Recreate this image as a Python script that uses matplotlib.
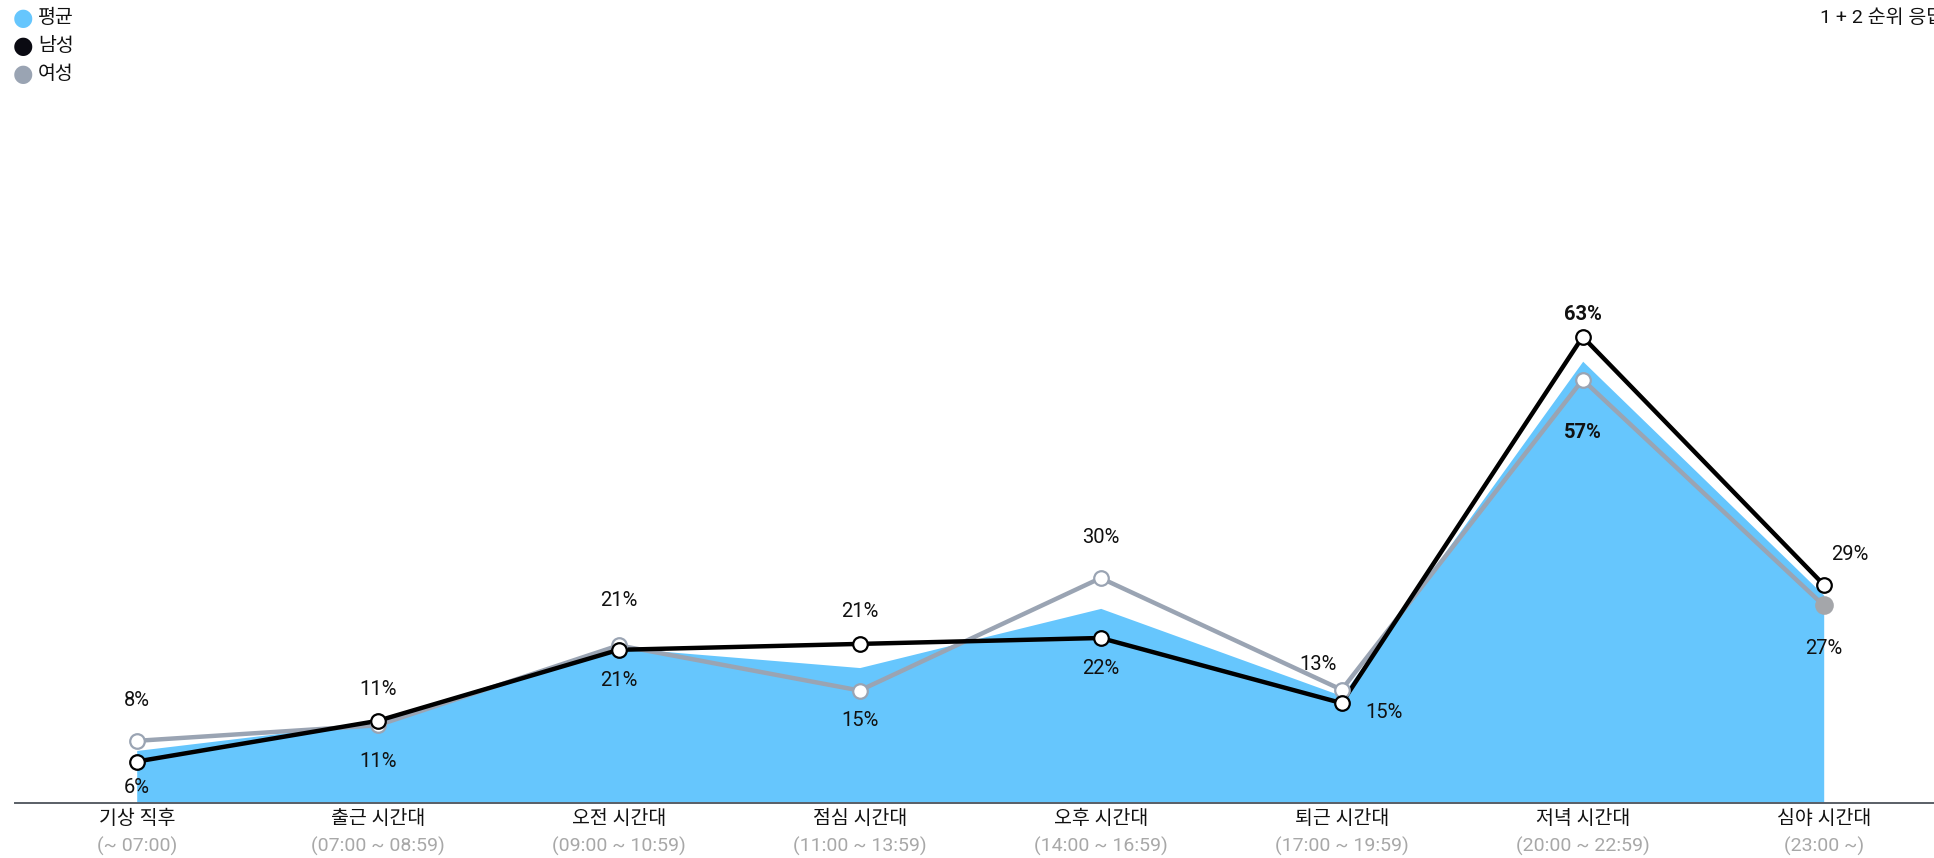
import numpy as np
import matplotlib.pyplot as plt

plt.rcParams['font.family'] = ['Roboto', 'Noto Sans CJK KR', 'DejaVu Sans']

# 시간대
categories = ['기상 직후', '출근 시간대', '오전 시간대', '점심 시간대',
              '오후 시간대', '퇴근 시간대', '저녁 시간대', '심야 시간대']
time_ranges = ['(~ 07:00)', '(07:00 ~ 08:59)', '(09:00 ~ 10:59)', '(11:00 ~ 13:59)',
               '(14:00 ~ 16:59)', '(17:00 ~ 19:59)', '(20:00 ~ 22:59)', '(23:00 ~)']

# 값 (%)
avg = [7.1, 11.0, 21.0, 18.3, 26.3, 14.5, 59.7, 28.1]
male = [5.6, 11.1, 20.7, 21.5, 22.3, 13.5, 63.0, 29.5]
female = [8.4, 10.5, 21.3, 15.2, 30.4, 15.3, 57.2, 26.7]

male_labels = ['6%', '11%', '21%', '21%', '22%', '15%', '63%', '29%']
female_labels = ['8%', '11%', '21%', '15%', '30%', '13%', '57%', '27%']

C_AVG = '#66c6fd'
C_MALE = '#000000'
C_FEMALE = '#9aa4b3'

W, H = 1934, 858
fig = plt.figure(figsize=(W / 100, H / 100), dpi=100)
base = 55  # px from bottom
ax = fig.add_axes([0, base / H, 1, (H - base) / H])
ax.set_xlim(-136.7 / 241, (W - 136.7) / 241)
ax.set_ylim(0, (H - base) / 7.4)
ax.axis('off')

x = np.arange(len(categories))

ax.fill_between(x, 0, avg, color=C_AVG, lw=0, zorder=1)
ax.plot(x, female, color=C_FEMALE, lw=3.2, zorder=2, solid_joinstyle='miter')
ax.plot(x, male, color=C_MALE, lw=3.2, zorder=3, solid_joinstyle='miter')

ax.scatter(x[:-1], female[:-1], s=110, facecolor='white', edgecolor=C_FEMALE, lw=1.6, zorder=4)
ax.scatter(x[-1:], female[-1:], s=140, facecolor='#a4a6aa', edgecolor='#a4a6aa', lw=1.6, zorder=4)
ax.scatter(x, male, s=110, facecolor='white', edgecolor=C_MALE, lw=1.6, zorder=5)

# 라벨 오프셋 (px)
male_off = [(0, -26), (0, 31), (0, -31), (0, 32), (0, -31), (42, -9), (0, 22), (26, 30)]
female_off = [(0, 40), (0, -36), (0, 45), (0, -30), (0, 41), (-24, 25), (0, -53), (0, -43)]

for i in x:
    for vals, labs, offs in ((male, male_labels, male_off), (female, female_labels, female_off)):
        bold = i == 6
        ax.annotate(labs[i], (i, vals[i]), xytext=offs[i], textcoords='offset pixels',
                    ha='center', va='center', fontsize=14.5, color='#111111',
                    fontweight='bold' if bold else 'normal', zorder=6)

# x축
ax.plot([15 / W, 1], [0, 0], transform=ax.transAxes, color='#5a5f66', lw=1.4, clip_on=False, zorder=6)
tr = ax.get_xaxis_transform()
for i in x:
    ax.annotate(categories[i], (i, 0), xycoords=tr, xytext=(0, -16), textcoords='offset pixels',
                ha='center', va='center', fontsize=14, color='#111111', annotation_clip=False)
    ax.annotate(time_ranges[i], (i, 0), xycoords=tr, xytext=(0, -43), textcoords='offset pixels',
                ha='center', va='center', fontsize=14, color='#a8a8a8', annotation_clip=False)

# 범례
legend_items = [('평균', C_AVG), ('남성', '#0a0a12'), ('여성', C_FEMALE)]
for k, (name, c) in enumerate(legend_items):
    yy = 1 - (18 + k * 28) / H
    fig.text(23 / W, yy, '●', color=c, fontsize=17, ha='center', va='center', family='DejaVu Sans')
    fig.text(38 / W, yy, name, fontsize=14, ha='left', va='center', color='#111111')

# 오른쪽 위 (원본처럼 가장자리에서 잘림)
fig.text(1820 / W, 1 - 18 / H, '1 + 2 순위 응답', fontsize=14, ha='left', va='center', color='#111111')

fig.savefig('out.png', dpi=100)
